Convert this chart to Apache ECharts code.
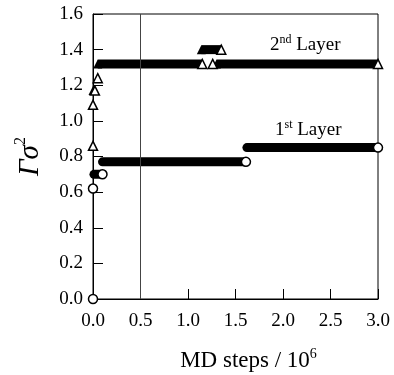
<!DOCTYPE html>
<html>
<head>
<meta charset="utf-8">
<script src="https://cdn.jsdelivr.net/npm/echarts@6/dist/echarts.min.js"></script>
<style>
  html, body { margin: 0; padding: 0; background: #fff; }
  #chart { width: 394px; height: 375px; }
</style>
</head>
<body>
<div id="chart"></div>
<script>
// MD steps are in units of 10^6; values are Γσ².
// 1st layer: plateaus (start step, end step, value)
const layer1RunStart = [0.01, 0.10, 1.62];
const layer1RunEnd   = [0.10, 1.61, 3.00];
const layer1RunValue = [0.70, 0.77, 0.85];
// 1st layer: single samples
const layer1PointStep  = [0.00, 0.00];
const layer1PointValue = [0.00, 0.62];

// 2nd layer: plateaus
const layer2RunStart = [0.00, 0.05, 1.14, 1.30];
const layer2RunEnd   = [0.02, 1.15, 1.35, 3.00];
const layer2RunValue = [1.17, 1.32, 1.40, 1.32];
// 2nd layer: single samples
const layer2PointStep  = [0.00, 0.00, 0.05, 1.26];
const layer2PointValue = [0.86, 1.09, 1.24, 1.32];

// reference step marked by a vertical line
const markerStep = 0.5;

const SERIF = '"Liberation Serif", "Times New Roman", serif';
const MARK = 9;

function runSeries(starts, ends, values, shape) {
  return starts.map((s, i) => ({
    type: 'line',
    clip: false,
    silent: true,
    animation: false,
    symbol: shape,
    symbolSize: MARK,
    showSymbol: true,
    showAllSymbol: true,
    lineStyle: { color: '#000', width: MARK, cap: shape === 'circle' ? 'round' : 'butt' },
    data: [
      {
        value: [s, values[i]],
        symbol: shape === 'circle' ? 'none' : shape,
        itemStyle: { color: '#000', borderColor: '#000', borderWidth: 0 }
      },
      {
        value: [ends[i], values[i]],
        itemStyle: { color: '#fff', borderColor: '#000', borderWidth: 1.5 }
      }
    ],
    z: 3
  }));
}

function pointSeries(steps, values, shape) {
  return {
    type: 'scatter',
    clip: false,
    silent: true,
    animation: false,
    symbol: shape,
    symbolSize: MARK,
    itemStyle: { color: '#fff', borderColor: '#000', borderWidth: 1.5, opacity: 1 },
    data: steps.map((x, i) => [x, values[i]]),
    z: 4
  };
}

const series = [
  {
    type: 'line',
    silent: true,
    animation: false,
    data: [],
    markLine: {
      silent: true,
      symbol: 'none',
      animation: false,
      label: { show: false },
      lineStyle: { color: '#444', width: 1, type: 'solid' },
      data: [{ xAxis: markerStep }]
    },
    z: 1
  },
  ...runSeries(layer1RunStart, layer1RunEnd, layer1RunValue, 'circle'),
  ...runSeries(layer2RunStart, layer2RunEnd, layer2RunValue, 'triangle'),
  pointSeries(layer1PointStep, layer1PointValue, 'circle'),
  pointSeries(layer2PointStep, layer2PointValue, 'triangle')
];

const chart = echarts.init(document.getElementById('chart'), null, { renderer: 'canvas' });

chart.setOption({
  backgroundColor: '#fff',
  animation: false,
  grid: {
    left: 93, right: 16, top: 14, bottom: 76,
    outerBoundsMode: 'none',
    containLabel: false,
    show: true, borderColor: '#000', borderWidth: 1, backgroundColor: 'transparent'
  },
  xAxis: {
    type: 'value',
    min: 0, max: 3.0, interval: 0.5,
    axisLine: { show: true, lineStyle: { color: '#000', width: 1 } },
    axisTick: { show: true, inside: true, length: 10, lineStyle: { color: '#000', width: 1 } },
    splitLine: { show: false },
    axisLabel: {
      color: '#000', fontFamily: SERIF, fontSize: 19, margin: 13,
      formatter: v => v.toFixed(1)
    },
    name: '{t|MD steps / 10}{s|6}',
    nameLocation: 'middle',
    nameGap: 48,
    nameTextStyle: {
      padding: [0, 0, 0, 26],
      rich: {
        t: { fontFamily: SERIF, fontSize: 23, color: '#000', lineHeight: 28 },
        s: { fontFamily: SERIF, fontSize: 14, color: '#000', verticalAlign: 'top', lineHeight: 28 }
      }
    }
  },
  yAxis: {
    type: 'value',
    min: 0, max: 1.6, interval: 0.2,
    axisLine: { show: true, lineStyle: { color: '#000', width: 1 } },
    axisTick: { show: true, inside: true, length: 10, lineStyle: { color: '#000', width: 1 } },
    splitLine: { show: false },
    axisLabel: {
      color: '#000', fontFamily: SERIF, fontSize: 19, margin: 10,
      formatter: v => v.toFixed(1)
    },
    name: '{g|Γσ}{s|2}',
    nameLocation: 'middle',
    nameRotate: 90,
    nameGap: 46,
    nameTextStyle: {
      rich: {
        g: { fontFamily: SERIF, fontSize: 29, fontStyle: 'italic', color: '#000', lineHeight: 34 },
        s: { fontFamily: SERIF, fontSize: 16, color: '#000', verticalAlign: 'top', lineHeight: 34 }
      }
    }
  },
  graphic: [
    {
      type: 'text', x: 270, y: 45, silent: true,
      style: {
        text: '{a|2}{b|nd}{a| Layer}',
        verticalAlign: 'middle',
        rich: {
          a: { fontFamily: SERIF, fontSize: 19, fill: '#000', lineHeight: 22 },
          b: { fontFamily: SERIF, fontSize: 12, fill: '#000', verticalAlign: 'top', lineHeight: 22 }
        }
      }
    },
    {
      type: 'text', x: 275, y: 130, silent: true,
      style: {
        text: '{a|1}{b|st}{a| Layer}',
        verticalAlign: 'middle',
        rich: {
          a: { fontFamily: SERIF, fontSize: 19, fill: '#000', lineHeight: 22 },
          b: { fontFamily: SERIF, fontSize: 12, fill: '#000', verticalAlign: 'top', lineHeight: 22 }
        }
      }
    }
  ],
  series
});
</script>
</body>
</html>
